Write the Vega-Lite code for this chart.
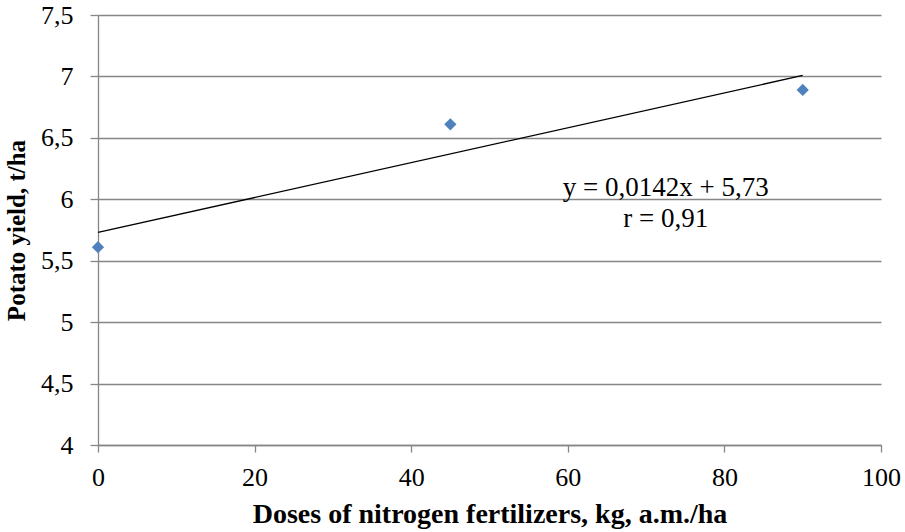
{
  "$schema": "https://vega.github.io/schema/vega-lite/v6.json",
  "width": 783,
  "height": 430,
  "autosize": {"type": "none"},
  "padding": {"left": 98, "top": 15, "right": 24, "bottom": 87},
  "background": "white",
  "config": {
    "view": {"stroke": null},
    "font": "Liberation Serif, serif",
    "axis": {
      "labelFont": "Liberation Serif, serif",
      "titleFont": "Liberation Serif, serif",
      "labelColor": "#000",
      "titleColor": "#000",
      "labelFontSize": 26,
      "titleFontWeight": "bold",
      "domainColor": "#868686",
      "tickColor": "#868686",
      "gridColor": "#868686",
      "domainWidth": 1.3,
      "tickWidth": 1.3,
      "gridWidth": 1.3
    }
  },
  "datasets": {
    "points": [
      {"dose": 0, "yield": 5.61},
      {"dose": 45, "yield": 6.61},
      {"dose": 90, "yield": 6.89}
    ],
    "trend": [
      {"dose": 0, "yield": 5.73},
      {"dose": 90, "yield": 7.008}
    ],
    "labels": [
      {"dose": 72.5, "yield": 6.09, "text": "y = 0,0142x + 5,73"},
      {"dose": 72.5, "yield": 5.84, "text": "r = 0,91"}
    ]
  },
  "layer": [
    {
      "data": {"name": "trend"},
      "mark": {"type": "line", "color": "#000", "strokeWidth": 1.3},
      "encoding": {
        "x": {
          "field": "dose", "type": "quantitative",
          "scale": {"domain": [0, 100], "nice": false},
          "axis": {
            "values": [0, 20, 40, 60, 80, 100],
            "grid": false,
            "tickSize": 7,
            "labelPadding": 12,
            "title": "Doses of nitrogen fertilizers, kg, a.m./ha",
            "titleFontSize": 28,
            "titlePadding": 10,
            "labelFlush": false
          }
        },
        "y": {
          "field": "yield", "type": "quantitative",
          "scale": {"domain": [4, 7.5], "nice": false, "zero": false},
          "axis": {
            "values": [4, 4.5, 5, 5.5, 6, 6.5, 7, 7.5],
            "format": ",.1~f",
            "labelExpr": "replace(datum.label, '.', ',')",
            "grid": true,
            "tickSize": 8,
            "labelPadding": 17,
            "title": "Potato yield, t/ha",
            "titleFontSize": 25,
            "titlePadding": 11
          }
        }
      }
    },
    {
      "data": {"name": "points"},
      "mark": {"type": "point", "shape": "diamond", "filled": true, "color": "#4F81BD", "size": 150, "opacity": 1},
      "encoding": {
        "x": {"field": "dose", "type": "quantitative"},
        "y": {"field": "yield", "type": "quantitative"}
      }
    },
    {
      "data": {"name": "labels"},
      "mark": {"type": "text", "font": "Liberation Serif, serif", "fontSize": 27, "color": "#000", "align": "center", "baseline": "middle"},
      "encoding": {
        "x": {"field": "dose", "type": "quantitative"},
        "y": {"field": "yield", "type": "quantitative"},
        "text": {"field": "text"}
      }
    }
  ]
}
